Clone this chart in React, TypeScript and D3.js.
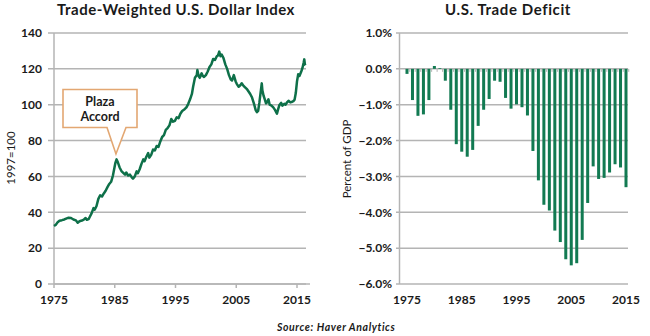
import React from "react";
import * as d3 from "d3";

// ---- Data ----
const dollarDates = [
  1975.0, 1975.3, 1975.6, 1975.9, 1976.3, 1976.7, 1977.0, 1977.4, 1977.8, 1978.2, 1978.6, 1978.9,
  1979.2, 1979.6, 1979.9, 1980.2, 1980.4, 1980.7, 1980.9, 1981.2, 1981.5, 1981.7, 1982.0, 1982.3,
  1982.6, 1982.9, 1983.2, 1983.5, 1983.8, 1984.1, 1984.4, 1984.7, 1984.9, 1985.1, 1985.3, 1985.5,
  1985.8, 1986.1, 1986.4, 1986.7, 1986.9, 1987.2, 1987.5, 1987.8, 1988.0, 1988.3, 1988.6, 1988.8,
  1989.1, 1989.4, 1989.7, 1989.9, 1990.2, 1990.5, 1990.7, 1991.0, 1991.3, 1991.6, 1991.9, 1992.2,
  1992.5, 1992.8, 1993.1, 1993.4, 1993.7, 1994.0, 1994.3, 1994.6, 1994.9, 1995.2, 1995.5, 1995.8,
  1996.1, 1996.5, 1996.8, 1997.1, 1997.4, 1997.7, 1997.9, 1998.2, 1998.5, 1998.6, 1998.8, 1999.0,
  1999.3, 1999.5, 1999.7, 2000.0, 2000.3, 2000.6, 2000.9, 2001.2, 2001.5, 2001.8, 2002.0, 2002.2,
  2002.4, 2002.6, 2002.9, 2003.2, 2003.5, 2003.8, 2004.1, 2004.3, 2004.6, 2004.9, 2005.1, 2005.4,
  2005.7, 2005.9, 2006.2, 2006.5, 2006.8, 2007.0, 2007.3, 2007.6, 2007.9, 2008.2, 2008.4, 2008.6,
  2008.8, 2009.0, 2009.2, 2009.3, 2009.5, 2009.7, 2009.9, 2010.1, 2010.3, 2010.5, 2010.8, 2011.1,
  2011.4, 2011.7, 2011.9, 2012.1, 2012.4, 2012.6, 2012.9, 2013.1, 2013.4, 2013.6, 2013.9, 2014.1,
  2014.4, 2014.6, 2014.8, 2015.0, 2015.2, 2015.4, 2015.7, 2015.9, 2016.1, 2016.2, 2016.3, 2016.4,
];
const dollarValues = [
  32.3, 33.0, 34.5, 35.3, 35.6, 36.0, 36.5, 37.0, 36.8, 36.0, 35.5, 34.2,
  35.0, 35.4, 35.9, 36.8, 35.8, 36.2, 37.5, 39.5, 42.3, 41.5, 43.5, 47.5,
  49.5, 48.8, 50.5, 52.0, 54.0, 55.8, 57.0, 60.5, 64.0, 67.5, 69.5, 68.0,
  65.0, 63.0, 62.0, 61.0, 62.2, 60.5, 61.0, 59.5, 58.8, 60.0, 62.8, 61.8,
  64.0, 67.0, 69.5, 68.5, 71.0, 73.0, 70.5, 72.0, 75.0, 74.5, 77.0, 76.5,
  79.5, 82.0, 83.0, 86.0, 87.0, 88.5, 92.0, 90.5, 91.0, 93.0, 92.5, 95.0,
  96.5, 97.5, 98.5, 100.5, 103.0, 106.0, 110.0, 115.0, 116.5, 119.3, 116.0, 115.0,
  117.5, 116.0, 115.5, 116.5, 118.5, 121.0, 122.5, 125.5, 125.0, 127.0, 127.5, 129.6,
  127.0, 128.0, 126.0, 122.5, 120.0, 116.5, 114.0, 113.5, 116.5, 113.0, 111.5, 110.0,
  111.0, 112.0, 110.5, 109.5, 108.5, 107.5, 106.0, 104.0, 100.8, 97.0, 95.8, 96.5,
  101.0, 106.5, 111.9, 108.0, 105.0, 103.0, 100.8, 101.5, 103.0, 100.0, 99.5, 98.5,
  97.0, 95.0, 97.5, 99.8, 101.0, 99.5, 100.5, 100.0, 101.5, 102.2, 101.3, 101.5,
  102.0, 102.8, 106.5, 113.0, 117.0, 116.0, 118.5, 120.5, 123.5, 125.3, 122.5, 122.0,
];
const dollarYTicks = [0, 20, 40, 60, 80, 100, 120, 140];
const yearTicks = [1975, 1985, 1995, 2005, 2015];

const tradeYears = [
  1975, 1976, 1977, 1978, 1979, 1980, 1981, 1982, 1983, 1984, 1985, 1986, 1987, 1988,
  1989, 1990, 1991, 1992, 1993, 1994, 1995, 1996, 1997, 1998, 1999, 2000, 2001, 2002,
  2003, 2004, 2005, 2006, 2007, 2008, 2009, 2010, 2011, 2012, 2013, 2014, 2015,
];
const tradeBalance = [
  -0.14, -0.87, -1.31, -1.27, -0.87, 0.08, 0.02, -0.33, -1.14, -2.1, -2.31, -2.45, -2.26, -1.59,
  -1.14, -0.84, -0.33, -0.36, -0.81, -1.11, -0.99, -1.07, -1.3, -2.29, -3.11, -3.79, -3.95, -4.51,
  -4.83, -5.31, -5.48, -5.42, -4.77, -3.74, -2.72, -3.07, -3.04, -2.89, -2.66, -2.75, -3.3,
];
const tradeYTicks = [1, 0, -1, -2, -3, -4, -5, -6];

const FONT = "Lato, 'Open Sans', sans-serif";
const GREEN = "#0e7049";
const BAR = "#127a52";
const GRID = "#b4b4b4";
const TEXT = "#1a1a1a";

export default function App() {
  // Left chart scales
  const x1 = d3.scaleLinear().domain([1975, 2015]).range([54, 297]);
  const y1 = d3.scaleLinear().domain([0, 140]).range([284, 33]);
  const pts = dollarDates.map((d, i) => [d, dollarValues[i]] as [number, number]);
  const line = d3
    .line<[number, number]>()
    .x((d) => x1(d[0]))
    .y((d) => y1(d[1]))
    .curve(d3.curveLinear);

  // Right chart scales
  const x2 = d3.scaleLinear().domain([1975, 2015]).range([407, 626]);
  const y2 = d3.scaleLinear().domain([-6, 1]).range([284, 33]);
  const bw = 3;
  const half = (x2(1976) - x2(1975)) / 2;

  return (
    <svg
      width={650}
      height={336}
      style={{ position: "absolute", left: 0, top: 0, background: "#fff" }}
      fontFamily={FONT}
    >
      {/* ---------- Left chart ---------- */}
      <text
        x={176}
        y={14.5}
        textAnchor="middle"
        fontSize={15}
        fontWeight={700}
        letterSpacing={0.5}
        fill={TEXT}
      >
        Trade-Weighted U.S. Dollar Index
      </text>
      {dollarYTicks.map((t) => (
        <g key={"g1" + t}>
          <line x1={48} x2={306} y1={y1(t)} y2={y1(t)} stroke={GRID} strokeWidth={1.5} />
          <text
            x={42}
            y={y1(t)}
            dy="0.36em"
            textAnchor="end"
            fontSize={12}
            fontWeight={700}
            fill={TEXT}
          >
            {t}
          </text>
        </g>
      ))}
      <line x1={54} x2={54} y1={33} y2={284} stroke={GRID} strokeWidth={1.5} />
      <line x1={54} x2={310} y1={284} y2={284} stroke={GRID} strokeWidth={1.5} />
      {yearTicks.map((t) => (
        <g key={"x1" + t}>
          <line x1={x1(t)} x2={x1(t)} y1={284} y2={288} stroke={GRID} strokeWidth={1.5} />
          <text x={x1(t)} y={304} textAnchor="middle" fontSize={12} fontWeight={700} fill={TEXT}>
            {t}
          </text>
        </g>
      ))}
      <text
        transform={`translate(15,158) rotate(-90)`}
        textAnchor="middle"
        fontSize={11.5}
        fill={TEXT}
      >
        1997=100
      </text>
      <path d={line(pts) || ""} fill="none" stroke={GREEN} strokeWidth={2.5} strokeLinejoin="round" />

      {/* Plaza Accord callout */}
      <path
        d={`M63,89.5 L137,89.5 L137,127.5 L126,127.5 L${x1(1985.2)},154 L107,127.5 L63,127.5 Z`}
        fill="#fff"
        stroke="#e3a772"
        strokeWidth={1.6}
      />
      <text x={100} y={105.5} textAnchor="middle" fontSize={12.5} fontWeight={700} fill={TEXT}>
        Plaza
      </text>
      <text x={100} y={121} textAnchor="middle" fontSize={12.5} fontWeight={700} fill={TEXT}>
        Accord
      </text>

      {/* ---------- Right chart ---------- */}
      <text
        x={508}
        y={14.5}
        textAnchor="middle"
        fontSize={15}
        fontWeight={700}
        letterSpacing={0.6}
        fill={TEXT}
      >
        U.S. Trade Deficit
      </text>
      {tradeYTicks.map((t) => (
        <g key={"g2" + t}>
          <line x1={396} x2={628} y1={y2(t)} y2={y2(t)} stroke={GRID} strokeWidth={1.5} />
          <text
            x={392}
            y={y2(t)}
            dy="0.36em"
            textAnchor="end"
            fontSize={12}
            fontWeight={700}
            fill={TEXT}
          >
            {d3.format(".1f")(t) + "%"}
          </text>
        </g>
      ))}
      <line x1={399.5} x2={399.5} y1={33} y2={284} stroke={GRID} strokeWidth={1.5} />
      {tradeYears.map((yr) => (
        <line
          key={"tk" + yr}
          x1={x2(yr) + half}
          x2={x2(yr) + half}
          y1={y2(0)}
          y2={y2(0) + 3}
          stroke={GRID}
          strokeWidth={1}
        />
      ))}
      {tradeYears.map((yr, i) => {
        const v = tradeBalance[i];
        return (
          <rect
            key={"b" + yr}
            x={x2(yr) - bw / 2}
            y={Math.min(y2(v), y2(0))}
            width={bw}
            height={Math.abs(y2(v) - y2(0))}
            fill={BAR}
          />
        );
      })}
      {yearTicks.map((t) => (
        <text
          key={"x2" + t}
          x={x2(t)}
          y={304}
          textAnchor="middle"
          fontSize={12}
          fontWeight={700}
          fill={TEXT}
        >
          {t}
        </text>
      ))}
      <text
        transform={`translate(351,159) rotate(-90)`}
        textAnchor="middle"
        fontSize={11.5}
        fill={TEXT}
      >
        Percent of GDP
      </text>

      {/* Source */}
      <text
        x={277}
        y={331}
        fontSize={10.5}
        fontStyle="italic"
        fontWeight={700}
        letterSpacing={0.6}
        fill={TEXT}
      >
        Source: Haver Analytics
      </text>
    </svg>
  );
}
